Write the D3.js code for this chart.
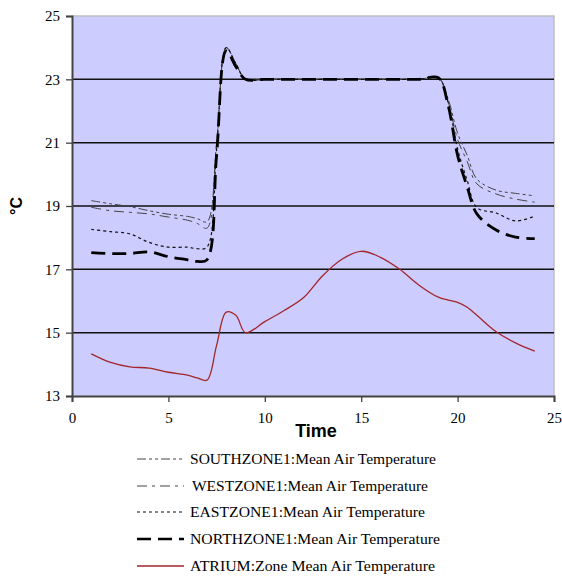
<!DOCTYPE html>
<html lang="en">
<head>
    <meta charset="UTF-8">
    <title>Zone Mean Air Temperature</title>
    <script src="https://d3js.org/d3.v7.min.js"></script>
    <style>
        body { margin: 0; background: #fff; }
    </style>
</head>
<body>
    <svg width="562" height="576"></svg>

    <script>
        // Time (hours)
        const hours = [1, 2, 3, 4, 5, 6, 6.5, 7, 7.5, 8, 8.5, 9, 10, 11, 12, 13, 14, 15, 16, 17, 18, 19, 19.5, 20, 20.5, 21, 22, 23, 24];

        const south = [19.17, 19.07, 18.98, 18.85, 18.74, 18.67, 18.6, 18.5, 21.0, 24.0, 23.5, 23.0, 23.0, 23.0, 23.0, 23.0, 23.0, 23.0, 23.0, 23.0, 23.0, 23.05, 22.4, 21.3, 20.6, 19.85, 19.5, 19.4, 19.32];
        const west = [18.96, 18.85, 18.8, 18.75, 18.65, 18.55, 18.45, 18.3, 20.9, 24.0, 23.5, 23.0, 23.0, 23.0, 23.0, 23.0, 23.0, 23.0, 23.0, 23.0, 23.0, 23.05, 22.3, 21.1, 20.4, 19.7, 19.38, 19.22, 19.12];
        const east = [18.26, 18.19, 18.12, 17.85, 17.7, 17.7, 17.65, 17.7, 20.8, 24.0, 23.5, 23.0, 23.0, 23.0, 23.0, 23.0, 23.0, 23.0, 23.0, 23.0, 23.0, 23.05, 22.3, 20.8, 19.8, 18.95, 18.78, 18.53, 18.68];
        const north = [17.53, 17.5, 17.5, 17.55, 17.4, 17.3, 17.25, 17.3, 20.6, 23.9, 23.4, 23.0, 23.0, 23.0, 23.0, 23.0, 23.0, 23.0, 23.0, 23.0, 23.0, 23.05, 22.2, 20.6, 19.6, 18.75, 18.24, 18.02, 17.97];
        const atrium = [14.33, 14.06, 13.92, 13.88, 13.75, 13.66, 13.57, 13.5, 14.6, 15.65, 15.55, 15.0, 15.35, 15.7, 16.1, 16.8, 17.32, 17.57, 17.38, 17.0, 16.5, 16.12, 16.03, 15.96, 15.8, 15.55, 15.03, 14.68, 14.42];

        const xTicks = [0, 5, 10, 15, 20, 25];
        const yTicks = [13, 15, 17, 19, 21, 23, 25];
        const gridValues = [15, 17, 19, 21, 23];

        const seriesNames = [
            'SOUTHZONE1:Mean Air Temperature',
            'WESTZONE1:Mean Air Temperature',
            'EASTZONE1:Mean Air Temperature',
            'NORTHZONE1:Mean Air Temperature',
            'ATRIUM:Zone Mean Air Temperature'
        ];

        const styles = [
            { color: '#444', width: 1, dash: '9,3,3,3,3,3' },
            { color: '#444', width: 1, dash: '10,5,3,5' },
            { color: '#111', width: 1.2, dash: '3,3' },
            { color: '#000', width: 2.8, dash: '14,7' },
            { color: '#a3262a', width: 1.3, dash: null }
        ];

        const seriesValues = [south, west, east, north, atrium];

        const serif = '"Liberation Serif", serif';
        const svg = d3.select('svg');
        const plotLeft = 72, plotRight = 554, plotTop = 16, plotBottom = 396;

        const x = d3.scaleLinear().domain([0, 25]).range([plotLeft, plotRight]);
        const y = d3.scaleLinear().domain([13, 25]).range([plotBottom, plotTop]);

        // plot background
        svg.append('rect')
            .attr('x', plotLeft).attr('y', plotTop)
            .attr('width', plotRight - plotLeft).attr('height', plotBottom - plotTop)
            .attr('fill', '#ccccff');

        // top and right border
        svg.append('path')
            .attr('d', `M${plotLeft},${plotTop}H${plotRight}V${plotBottom}`)
            .attr('fill', 'none')
            .attr('stroke', '#c0c0c0')
            .attr('stroke-width', 1.5);

        // gridlines
        svg.selectAll('.grid')
            .data(gridValues)
            .enter().append('line')
            .attr('class', 'grid')
            .attr('x1', plotLeft).attr('x2', plotRight)
            .attr('y1', d => y(d)).attr('y2', d => y(d))
            .attr('stroke', '#111')
            .attr('stroke-width', 1.5);

        // axes
        const yAxis = svg.append('g')
            .attr('transform', `translate(${plotLeft},0)`)
            .call(d3.axisLeft(y).tickValues(yTicks).tickSize(6).tickPadding(6));

        const xAxis = svg.append('g')
            .attr('transform', `translate(0,${plotBottom})`)
            .call(d3.axisBottom(x).tickValues(xTicks).tickSize(6).tickPadding(10));

        [yAxis, xAxis].forEach(a => {
            a.attr('font-family', null).attr('font-size', null);
            a.selectAll('.tick text')
                .attr('fill', '#000')
                .style('font-family', serif)
                .style('font-size', '15px');
            a.select('.domain').attr('stroke', '#444').attr('stroke-width', 2);
            a.selectAll('.tick line').attr('stroke', '#444').attr('stroke-width', 1.3);
        });

        // lines
        const line = d3.line()
            .x((d, i) => x(hours[i]))
            .y(d => y(d))
            .curve(d3.curveCatmullRom);

        svg.selectAll('.series')
            .data(seriesValues)
            .enter().append('path')
            .attr('class', 'series')
            .attr('d', d => line(d))
            .attr('fill', 'none')
            .attr('stroke', (d, i) => styles[i].color)
            .attr('stroke-width', (d, i) => styles[i].width)
            .attr('stroke-dasharray', (d, i) => styles[i].dash);

        // axis titles
        svg.append('text')
            .attr('x', 316).attr('y', 437)
            .attr('text-anchor', 'middle')
            .attr('font-family', 'Liberation Sans')
            .attr('font-weight', 'bold')
            .attr('font-size', 18)
            .text('Time');

        svg.append('text')
            .attr('transform', 'translate(22,206) rotate(-90)')
            .attr('text-anchor', 'middle')
            .attr('font-family', 'Liberation Sans')
            .attr('font-weight', 'bold')
            .attr('font-size', 16)
            .text('°C');

        // legend
        const legendY = [459, 486, 512, 539, 566];
        const legendTextX = [190, 192, 190, 190, 190];
        const legendTextW = [246, 236, 235, 250, 245];
        const legend = svg.append('g');
        const item = legend.selectAll('g')
            .data(seriesNames)
            .enter().append('g')
            .attr('transform', (d, i) => `translate(0,${legendY[i]})`);

        item.append('line')
            .attr('x1', 137).attr('x2', 184)
            .attr('stroke', (d, i) => styles[i].color)
            .attr('stroke-width', (d, i) => Math.min(styles[i].width, 2.5))
            .attr('stroke-dasharray', (d, i) => styles[i].dash);

        item.append('text')
            .attr('x', (d, i) => legendTextX[i])
            .attr('dy', '0.35em')
            .attr('fill', '#000')
            .attr('textLength', (d, i) => legendTextW[i])
            .attr('lengthAdjust', 'spacingAndGlyphs')
            .style('font-family', serif)
            .style('font-size', '15px')
            .text(d => d);
    </script>
</body>
</html>
